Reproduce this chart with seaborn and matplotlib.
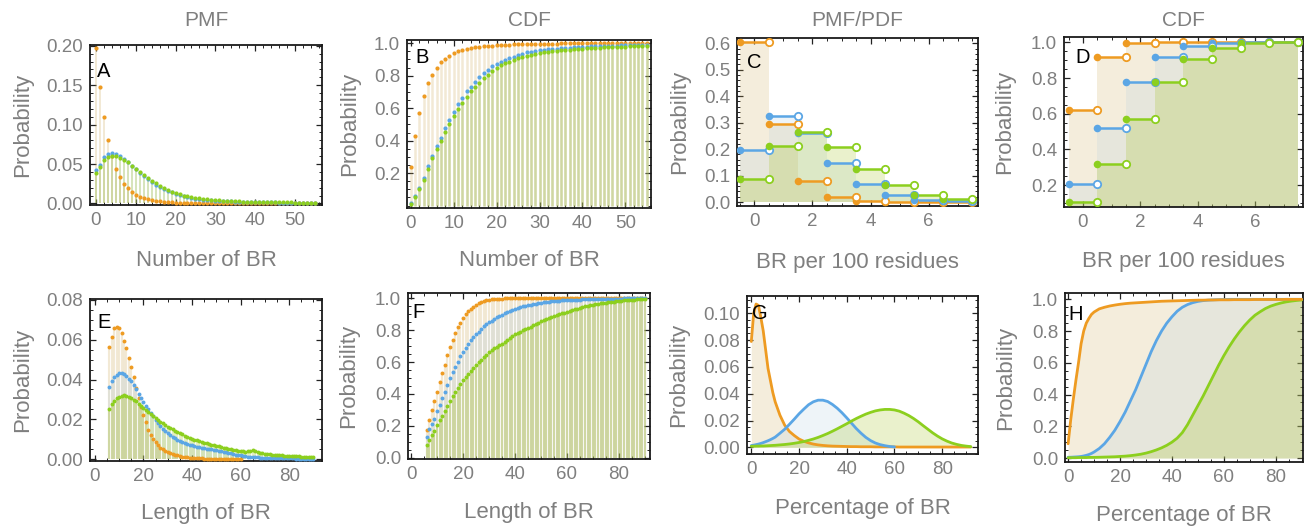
import numpy as np
import matplotlib
matplotlib.use("Agg")
import matplotlib.pyplot as plt
import seaborn as sns
from matplotlib.ticker import FixedLocator, MultipleLocator, FormatStrFormatter

# ---------------- data ----------------
SERIES = ["orange", "blue", "green"]

# A: PMF, Number of BR
A_x = list(range(0, 56))
A_orange = [0.197, 0.148, 0.11, 0.081, 0.06, 0.044, 0.033, 0.025, 0.019, 0.0145,
            0.011, 0.0085, 0.0066, 0.0052, 0.0041, 0.0032, 0.0025, 0.002, 0.0016, 0.0013,
            0.001, 0.0008, 0.0007, 0.0006, 0.0005, 0.0004, 0.0003, 0.0003, 0.0002, 0.0002,
            0.0002, 0.0001, 0.0001, 0.0001, 0.0001, 0.0001, 0.0, 0.0, 0.0, 0.0,
            0.0, 0.0, 0.0, 0.0, 0.0, 0.0, 0.0, 0.0, 0.0, 0.0,
            0.0, 0.0, 0.0, 0.0, 0.0, 0.0]
A_blue = [0.043, 0.049, 0.059, 0.0625, 0.0635, 0.0625, 0.06, 0.0565, 0.0525, 0.048,
          0.0435, 0.039, 0.035, 0.031, 0.0275, 0.024, 0.021, 0.0182, 0.016, 0.014,
          0.0122, 0.0106, 0.0092, 0.008, 0.007, 0.0062, 0.0055, 0.0049, 0.0044, 0.004,
          0.0036, 0.0033, 0.003, 0.0028, 0.0026, 0.0024, 0.0022, 0.002, 0.0019, 0.0018,
          0.0017, 0.0016, 0.0015, 0.0014, 0.0013, 0.0012, 0.0011, 0.0011, 0.001, 0.001,
          0.0009, 0.0009, 0.0008, 0.0008, 0.0008, 0.0007]
A_green = [0.039, 0.046, 0.055, 0.0595, 0.0604, 0.06, 0.058, 0.0555, 0.052, 0.048,
           0.0438, 0.04, 0.0355, 0.0322, 0.0285, 0.0253, 0.0218, 0.0192, 0.0167, 0.0145,
           0.013, 0.0115, 0.0097, 0.009, 0.0077, 0.0071, 0.0064, 0.0057, 0.0051, 0.0046,
           0.0042, 0.0038, 0.0035, 0.0032, 0.003, 0.0028, 0.0026, 0.0024, 0.0022, 0.0021,
           0.002, 0.0019, 0.0018, 0.0017, 0.0016, 0.0015, 0.0014, 0.0013, 0.0013, 0.0012,
           0.0011, 0.0011, 0.001, 0.001, 0.0009, 0.0009]

# B: CDF, Number of BR
B_x = list(range(0, 56))
B_orange = [0.235, 0.426, 0.569, 0.678, 0.754, 0.805, 0.85, 0.883, 0.903, 0.924,
            0.938, 0.953, 0.959, 0.965, 0.969, 0.975, 0.978, 0.981, 0.984, 0.986,
            0.988, 0.99, 0.991, 0.992, 0.993, 0.994, 0.995, 0.996, 0.996, 0.997,
            0.997, 0.998, 0.998, 0.998, 0.998, 0.999, 0.999, 0.999, 0.999, 0.999,
            0.999, 0.999, 0.999, 0.999, 0.999, 0.999, 1.0, 1.0, 1.0, 1.0,
            1.0, 1.0, 1.0, 1.0, 1.0, 1.0]
B_blue = [0.015, 0.057, 0.108, 0.169, 0.241, 0.303, 0.364, 0.415, 0.477, 0.528,
          0.575, 0.625, 0.661, 0.703, 0.733, 0.764, 0.789, 0.815, 0.836, 0.857,
          0.871, 0.887, 0.897, 0.908, 0.918, 0.928, 0.934, 0.943, 0.948, 0.952,
          0.956, 0.959, 0.962, 0.965, 0.967, 0.969, 0.971, 0.973, 0.975, 0.977,
          0.978, 0.979, 0.98, 0.981, 0.982, 0.983, 0.984, 0.985, 0.986, 0.987,
          0.988, 0.989, 0.99, 0.99, 0.991, 0.992]
B_green = [0.01, 0.05, 0.1, 0.16, 0.225, 0.29, 0.35, 0.4, 0.455, 0.505,
           0.55, 0.597, 0.632, 0.667, 0.703, 0.732, 0.758, 0.785, 0.805, 0.83,
           0.846, 0.863, 0.877, 0.887, 0.897, 0.908, 0.916, 0.924, 0.93, 0.935,
           0.94, 0.944, 0.948, 0.951, 0.954, 0.957, 0.959, 0.961, 0.963, 0.965,
           0.967, 0.969, 0.97, 0.972, 0.973, 0.974, 0.975, 0.976, 0.977, 0.978,
           0.979, 0.98, 0.981, 0.982, 0.983, 0.984]

# C: PMF, BR per 100 residues ; D: CDF
C_x = [0, 1, 2, 3, 4, 5, 6, 7]
C_orange = [0.605, 0.296, 0.081, 0.018, 0.004, 0.001, 0.0, 0.0]
C_blue = [0.195, 0.325, 0.262, 0.148, 0.068, 0.025, 0.009, 0.003]
C_green = [0.088, 0.212, 0.265, 0.208, 0.126, 0.063, 0.028, 0.01]
D_x = [0, 1, 2, 3, 4, 5, 6, 7]
D_orange = [0.621, 0.918, 0.997, 1.0, 1.0, 1.0, 1.0, 1.0]
D_blue = [0.205, 0.522, 0.775, 0.918, 0.978, 0.995, 1.0, 1.0]
D_green = [0.105, 0.318, 0.571, 0.775, 0.906, 0.968, 0.996, 1.0]

# E: PMF, Length of BR ; F: CDF
E_x = list(range(6, 91))
E_orange_x = list(range(6, 61))
E_orange = [0.0565, 0.0615, 0.066, 0.0666, 0.066, 0.0635, 0.0596, 0.0557, 0.051, 0.0464,
            0.0411, 0.0358, 0.0308, 0.026, 0.022, 0.0184, 0.0146, 0.0123, 0.0103, 0.0085,
            0.0071, 0.0057, 0.0048, 0.0041, 0.0035, 0.003, 0.0025, 0.0021, 0.0018, 0.0015,
            0.0012, 0.001, 0.0008, 0.0007, 0.0006, 0.0005, 0.0004, 0.0003, 0.0003, 0.0002,
            0.0002, 0.0002, 0.0001, 0.0001, 0.0001, 0.0001, 0.0001, 0.0001, 0.0, 0.0,
            0.0, 0.0, 0.0, 0.0, 0.0]
E_blue = [0.036, 0.039, 0.0412, 0.0425, 0.0432, 0.0434, 0.0426, 0.0416, 0.0403, 0.039,
          0.037, 0.035, 0.0328, 0.0305, 0.0286, 0.0268, 0.025, 0.0232, 0.0215, 0.0198,
          0.018, 0.0164, 0.015, 0.014, 0.0131, 0.0121, 0.0113, 0.0105, 0.0098, 0.0092,
          0.0086, 0.0081, 0.0076, 0.0072, 0.0068, 0.0065, 0.0062, 0.0059, 0.0056, 0.0054,
          0.0052, 0.005, 0.0048, 0.0046, 0.0044, 0.0042, 0.004, 0.0037, 0.0034, 0.0031,
          0.0028, 0.0025, 0.0022, 0.002, 0.0018, 0.0016, 0.0014, 0.0012, 0.0011, 0.001,
          0.0009, 0.0008, 0.0007, 0.0007, 0.0006, 0.0006, 0.0005, 0.0005, 0.0005, 0.0004,
          0.0004, 0.0004, 0.0003, 0.0003, 0.0003, 0.0003, 0.0003, 0.0002, 0.0002, 0.0002,
          0.0002, 0.0002, 0.0002, 0.0001, 0.0001]
E_green = [0.025, 0.0275, 0.0294, 0.0305, 0.0314, 0.0319, 0.0321, 0.0318, 0.0312, 0.0305,
           0.0297, 0.029, 0.0279, 0.0269, 0.0258, 0.0248, 0.0236, 0.0226, 0.0216, 0.0206,
           0.0197, 0.0187, 0.0179, 0.017, 0.0162, 0.0156, 0.0149, 0.0142, 0.0136, 0.0131,
           0.0125, 0.0118, 0.0113, 0.0107, 0.0102, 0.0098, 0.0094, 0.009, 0.0086, 0.0083,
           0.0079, 0.0076, 0.0073, 0.007, 0.0067, 0.0064, 0.006, 0.0057, 0.0055, 0.0052,
           0.005, 0.0047, 0.0045, 0.0042, 0.004, 0.0038, 0.0037, 0.0039, 0.0042, 0.0043,
           0.0038, 0.0033, 0.003, 0.0028, 0.0026, 0.0025, 0.0023, 0.0022, 0.0021, 0.002,
           0.0019, 0.0018, 0.0017, 0.0016, 0.0015, 0.0015, 0.0014, 0.0013, 0.0013, 0.0012,
           0.0012, 0.0011, 0.0011, 0.001, 0.001]
F_x = list(range(6, 91))
F_orange = [0.174, 0.235, 0.3, 0.355, 0.41, 0.473, 0.53, 0.58, 0.645, 0.697,
            0.74, 0.782, 0.818, 0.848, 0.876, 0.9, 0.919, 0.933, 0.946, 0.958,
            0.968, 0.975, 0.982, 0.987, 0.992, 0.994, 0.996, 0.997, 0.998, 0.998,
            0.999, 0.999, 0.999, 0.999, 0.999, 0.999, 0.999, 0.999, 0.999, 0.999,
            0.999, 0.999, 0.999, 0.999, 0.999, 1.0, 1.0, 1.0, 1.0, 1.0,
            1.0, 1.0, 1.0, 1.0, 1.0, 1.0, 1.0, 1.0, 1.0, 1.0,
            1.0, 1.0, 1.0, 1.0, 1.0, 1.0, 1.0, 1.0, 1.0, 1.0,
            1.0, 1.0, 1.0, 1.0, 1.0, 1.0, 1.0, 1.0, 1.0, 1.0,
            1.0, 1.0, 1.0, 1.0, 1.0]
F_blue = [0.132, 0.178, 0.21, 0.245, 0.29, 0.333, 0.375, 0.415, 0.456, 0.498,
          0.535, 0.568, 0.602, 0.635, 0.663, 0.69, 0.714, 0.736, 0.756, 0.773,
          0.79, 0.808, 0.824, 0.837, 0.849, 0.86, 0.871, 0.881, 0.89, 0.898,
          0.906, 0.914, 0.922, 0.929, 0.935, 0.94, 0.945, 0.949, 0.953, 0.957,
          0.96, 0.963, 0.966, 0.969, 0.972, 0.974, 0.976, 0.978, 0.98, 0.982,
          0.983, 0.985, 0.986, 0.987, 0.988, 0.989, 0.99, 0.991, 0.992, 0.992,
          0.993, 0.994, 0.994, 0.995, 0.995, 0.996, 0.996, 0.996, 0.997, 0.997,
          0.997, 0.998, 0.998, 0.998, 0.998, 0.998, 0.999, 0.999, 0.999, 0.999,
          0.999, 0.999, 0.999, 0.999, 0.999]
F_green = [0.08, 0.112, 0.14, 0.17, 0.205, 0.235, 0.26, 0.295, 0.325, 0.355,
           0.385, 0.41, 0.435, 0.46, 0.485, 0.505, 0.525, 0.545, 0.565, 0.583,
           0.6, 0.615, 0.63, 0.645, 0.66, 0.673, 0.685, 0.695, 0.705, 0.715,
           0.725, 0.738, 0.75, 0.763, 0.775, 0.783, 0.79, 0.798, 0.805, 0.813,
           0.82, 0.83, 0.84, 0.848, 0.855, 0.862, 0.87, 0.878, 0.885, 0.89,
           0.895, 0.9, 0.905, 0.91, 0.915, 0.92, 0.925, 0.93, 0.935, 0.94,
           0.945, 0.949, 0.953, 0.957, 0.96, 0.963, 0.965, 0.968, 0.97, 0.973,
           0.975, 0.977, 0.979, 0.981, 0.983, 0.985, 0.986, 0.988, 0.989, 0.991,
           0.992, 0.994, 0.995, 0.997, 0.998]

# G: PDF, Percentage of BR ; H: CDF
G_x = [0, 1, 2, 3, 4, 5, 6, 7, 8, 9, 10, 12, 14, 16, 18, 20, 22, 24, 26, 28,
       30, 32, 34, 36, 38, 40, 42, 44, 46, 48, 50, 52, 54, 56, 58, 60, 62, 64, 66, 68,
       70, 72, 74, 76, 78, 80, 82, 84, 86, 88, 90, 92]
G_orange = [0.079, 0.1, 0.107, 0.106, 0.097, 0.087, 0.073, 0.059, 0.05, 0.041, 0.034,
            0.024, 0.0165, 0.0118, 0.0088, 0.0062, 0.0045, 0.0033, 0.0024, 0.0018, 0.0014,
            0.0011, 0.0009, 0.0008, 0.0007, 0.0006, 0.0005, 0.0005, 0.0004, 0.0004, 0.0004,
            0.0003, 0.0003, 0.0003, 0.0003, 0.0003, 0.0002, 0.0002, 0.0002, 0.0002, 0.0002,
            0.0002, 0.0002, 0.0002, 0.0002, 0.0002, 0.0002, 0.0002, 0.0002, 0.0002, 0.0002, 0.0002]
G_blue_x = [0, 1, 2, 3, 4, 5, 6, 7, 8, 9, 10, 12, 14, 16, 18, 20, 22, 24, 26, 28,
            30, 32, 34, 36, 38, 40, 42, 44, 46, 48, 50, 52, 54, 56, 58, 60]
G_blue = [0.0013, 0.0016, 0.002, 0.0024, 0.0029, 0.0035, 0.0042, 0.0049, 0.0057, 0.0066, 0.0076,
          0.0105, 0.0135, 0.0172, 0.021, 0.025, 0.0285, 0.0318, 0.034, 0.0352, 0.0352,
          0.0342, 0.032, 0.0292, 0.0258, 0.022, 0.018, 0.014, 0.0105, 0.0074, 0.005,
          0.0032, 0.002, 0.0012, 0.0006, 0.0003]
G_green = [0.0008, 0.0008, 0.0009, 0.0009, 0.001, 0.001, 0.0011, 0.0012, 0.0013, 0.0014, 0.0015,
           0.0018, 0.0021, 0.0025, 0.003, 0.0036, 0.0043, 0.0052, 0.0062, 0.0074, 0.0088,
           0.0103, 0.012, 0.0138, 0.0157, 0.0176, 0.0196, 0.0215, 0.0232, 0.0248, 0.0261,
           0.0272, 0.0279, 0.0283, 0.0283, 0.0279, 0.027, 0.0255, 0.0237, 0.0215, 0.019,
           0.0162, 0.0135, 0.0108, 0.0084, 0.0063, 0.0046, 0.0032, 0.0022, 0.0014, 0.0009, 0.0005]
H_x = [0, 1, 2, 3, 4, 5, 6, 7, 8, 9, 10, 12, 14, 16, 18, 20, 22, 24, 26, 28,
       30, 32, 34, 36, 38, 40, 42, 44, 46, 48, 50, 52, 54, 56, 58, 60, 62, 64, 66, 68,
       70, 72, 74, 76, 78, 80, 82, 84, 86, 88, 90]
H_orange = [0.09, 0.24, 0.37, 0.49, 0.6, 0.72, 0.8, 0.85, 0.88, 0.905, 0.92,
            0.94, 0.95, 0.958, 0.964, 0.969, 0.973, 0.976, 0.978, 0.98, 0.982,
            0.984, 0.986, 0.988, 0.989, 0.99, 0.991, 0.992, 0.993, 0.994, 0.995,
            0.995, 0.996, 0.996, 0.997, 0.997, 0.997, 0.998, 0.998, 0.998, 0.998,
            0.999, 0.999, 0.999, 0.999, 0.999, 0.999, 1.0, 1.0, 1.0, 1.0]
H_blue = [0.005, 0.005, 0.006, 0.007, 0.008, 0.01, 0.013, 0.017, 0.022, 0.029, 0.038,
          0.06, 0.09, 0.13, 0.175, 0.23, 0.29, 0.36, 0.43, 0.51, 0.59,
          0.67, 0.74, 0.8, 0.85, 0.89, 0.925, 0.95, 0.967, 0.979, 0.987,
          0.992, 0.995, 0.997, 0.998, 0.999, 1.0, 1.0, 1.0, 1.0, 1.0,
          1.0, 1.0, 1.0, 1.0, 1.0, 1.0, 1.0, 1.0, 1.0, 1.0]
H_green = [0.002, 0.002, 0.002, 0.002, 0.003, 0.003, 0.003, 0.003, 0.004, 0.004, 0.004,
           0.005, 0.006, 0.007, 0.008, 0.01, 0.012, 0.015, 0.019, 0.024, 0.031,
           0.04, 0.051, 0.064, 0.08, 0.1, 0.125, 0.16, 0.21, 0.27, 0.33,
           0.39, 0.455, 0.52, 0.585, 0.645, 0.7, 0.75, 0.795, 0.835, 0.87,
           0.9, 0.922, 0.942, 0.957, 0.968, 0.977, 0.984, 0.989, 0.993, 0.996]

TITLES = ["PMF", "CDF", "PMF/PDF", "CDF"]
XLABELS = ["Number of BR", "Number of BR", "BR per 100 residues", "BR per 100 residues",
           "Length of BR", "Length of BR", "Percentage of BR", "Percentage of BR"]
YLABEL = "Probability"
LETTERS = ["A", "B", "C", "D", "E", "F", "G", "H"]

# ---------------- style ----------------
COLORS = {"orange": "#EE9B22", "blue": "#5BA6E5", "green": "#8CCF1E"}
FILLS = {"orange": "#C9A550", "blue": "#AECADC", "green": "#96B900"}
GRAY = "#7f7f7f"
FA = 0.2

sns.set_style("ticks")
plt.rcParams["font.family"] = ["Liberation Sans", "DejaVu Sans"]

W, H = 1310, 529
fig = plt.figure(figsize=(W / 100, H / 100), dpi=100)


def add_ax(x0, y0, x1, y1):
    return fig.add_axes([x0 / W, 1 - y1 / H, (x1 - x0) / W, (y1 - y0) / H])


def style(ax, i, xlim, ylim, xticks, yticks, xminor, yminor, yfmt, lxy, xl_y, yl_x):
    ax.set_xlim(*xlim)
    ax.set_ylim(*ylim)
    ax.xaxis.set_major_locator(FixedLocator(xticks))
    ax.yaxis.set_major_locator(FixedLocator(yticks))
    ax.xaxis.set_minor_locator(MultipleLocator(xminor))
    ax.yaxis.set_minor_locator(MultipleLocator(yminor))
    ax.xaxis.set_major_formatter(FormatStrFormatter("%d"))
    ax.yaxis.set_major_formatter(FormatStrFormatter(yfmt))
    ax.tick_params(which="both", direction="in", top=True, right=True,
                   colors="#222222", labelcolor=GRAY, labelsize=13.5, pad=5)
    ax.tick_params(which="major", length=4.5, width=0.9)
    ax.tick_params(which="minor", length=2.5, width=0.7)
    for s in ax.spines.values():
        s.set_color("#1a1a1a")
        s.set_linewidth(1.3)
    ax.set_xlabel(XLABELS[i], fontsize=16, color=GRAY)
    ax.xaxis.label.set_verticalalignment("center")
    ax.xaxis.set_label_coords(0.5, xl_y)
    ax.set_ylabel(YLABEL, fontsize=16, color=GRAY)
    ax.yaxis.label.set_verticalalignment("center")
    ax.yaxis.set_label_coords(yl_x, 0.5)
    ax.text(lxy[0], lxy[1], LETTERS[i], transform=ax.transAxes, fontsize=14.5,
            color="black", va="center", ha="left", zorder=10)


def stems_dots(ax, xs, ys, name, lw, s, alpha=0.24):
    ax.vlines(xs, 0, ys, color=FILLS[name], alpha=alpha, lw=lw, zorder=1)
    sns.scatterplot(x=xs, y=ys, color=COLORS[name], s=s, linewidth=0, ax=ax,
                    zorder=3, legend=False)


def steps(ax, xs, ys, name):
    xs = np.asarray(xs, dtype=float)
    c = COLORS[name]
    ax.bar(xs, ys, width=1.0, color=FILLS[name], alpha=FA, linewidth=0, zorder=1)
    ax.hlines(ys, xs - 0.5, xs + 0.5, color=c, lw=1.8, zorder=3)
    sns.scatterplot(x=xs - 0.5, y=ys, color=c, s=30, linewidth=0, ax=ax,
                    zorder=4, legend=False)
    sns.scatterplot(x=xs + 0.5, y=ys, color="white", edgecolor=c, s=28,
                    linewidth=1.3, ax=ax, zorder=4, legend=False)


def curve(ax, xs, ys, name, z=3):
    ax.fill_between(xs, 0, ys, color=FILLS[name], alpha=FA, lw=0, zorder=1)
    sns.lineplot(x=xs, y=ys, color=COLORS[name], lw=2.0, ax=ax, estimator=None,
                 sort=False, legend=False, zorder=z)


# ---- A ----
ax = add_ax(90, 45, 322, 205)
for name, ys in zip(SERIES, [A_orange, A_blue, A_green]):
    stems_dots(ax, A_x, ys, name, 1.4, 9)
style(ax, 0, (-1.5, 56.8), (-0.002, 0.201), [0, 10, 20, 30, 40, 50],
      [0, 0.05, 0.10, 0.15, 0.20], 2, 0.01, "%.2f", (0.03, 0.834), -0.344, -0.29)

# ---- B ----
ax = add_ax(407, 40, 651, 208)
for name, ys in zip(SERIES, [B_orange, B_blue, B_green]):
    stems_dots(ax, B_x, ys, name, 1.8, 9)
style(ax, 1, (-0.9, 56), (-0.015, 1.02), [0, 10, 20, 30, 40, 50],
      [0.2, 0.4, 0.6, 0.8, 1.0], 2, 0.05, "%.1f", (0.033, 0.896), -0.315, -0.235)

# ---- C ----
ax = add_ax(737, 38, 978, 206)
for name, ys in zip(SERIES, [C_orange, C_blue, C_green]):
    steps(ax, C_x, ys, name)
style(ax, 2, (-0.6, 7.7), (-0.015, 0.62), [0, 2, 4, 6],
      [0.0, 0.1, 0.2, 0.3, 0.4, 0.5, 0.6], 0.5, 0.02, "%.1f", (0.041, 0.854), -0.339, -0.24)

# ---- D ----
ax = add_ax(1064, 37, 1303, 207)
for name, ys in zip(SERIES, [D_orange, D_blue, D_green]):
    steps(ax, D_x, ys, name)
style(ax, 3, (-0.66, 7.67), (0.077, 1.03), [0, 2, 4, 6],
      [0.2, 0.4, 0.6, 0.8, 1.0], 0.5, 0.05, "%.1f", (0.046, 0.879), -0.318, -0.247)

# ---- E ----
ax = add_ax(90, 299, 322, 461)
stems_dots(ax, E_orange_x, E_orange, "orange", 1.5, 8)
stems_dots(ax, E_x, E_blue, "blue", 1.5, 8)
stems_dots(ax, E_x, E_green, "green", 1.5, 8)
style(ax, 4, (-2.0, 93.5), (-0.001, 0.0805), [0, 20, 40, 60, 80],
      [0, 0.02, 0.04, 0.06, 0.08], 5, 0.005, "%.2f", (0.03, 0.855), -0.321, -0.29)

# ---- F ----
ax = add_ax(408, 293, 650, 459)
for name, ys in zip(SERIES, [F_orange, F_blue, F_green]):
    stems_dots(ax, F_x, ys, name, 1.5, 8)
style(ax, 5, (-1.2, 92), (-0.008, 1.033), [0, 20, 40, 60, 80],
      [0.0, 0.2, 0.4, 0.6, 0.8, 1.0], 5, 0.05, "%.1f", (0.02, 0.883), -0.325, -0.244)

# ---- G ----
ax = add_ax(747, 296, 978, 454)
curve(ax, G_x, G_orange, "orange")
curve(ax, G_blue_x, G_blue, "blue")
curve(ax, G_x, G_green, "green")
style(ax, 6, (-1.8, 95), (-0.005, 0.113), [0, 20, 40, 60, 80],
      [0, 0.02, 0.04, 0.06, 0.08, 0.10], 5, 0.005, "%.2f", (0.022, 0.889), -0.348, -0.294)

# ---- H ----
ax = add_ax(1065, 293, 1303, 462)
curve(ax, H_x, H_orange, "orange", z=5)
curve(ax, H_x, H_blue, "blue", z=3)
curve(ax, H_x, H_green, "green", z=4)
style(ax, 7, (-1.2, 90.5), (-0.025, 1.04), [0, 20, 40, 60, 80],
      [0.0, 0.2, 0.4, 0.6, 0.8, 1.0], 5, 0.05, "%.1f", (0.013, 0.87), -0.314, -0.248)

# column titles
for cx, t in zip([206, 529, 857.5, 1183.5], TITLES):
    fig.text(cx / W, 1 - 20 / H, t, ha="center", va="center", fontsize=15, color=GRAY)

fig.savefig("out.png", dpi=100)
